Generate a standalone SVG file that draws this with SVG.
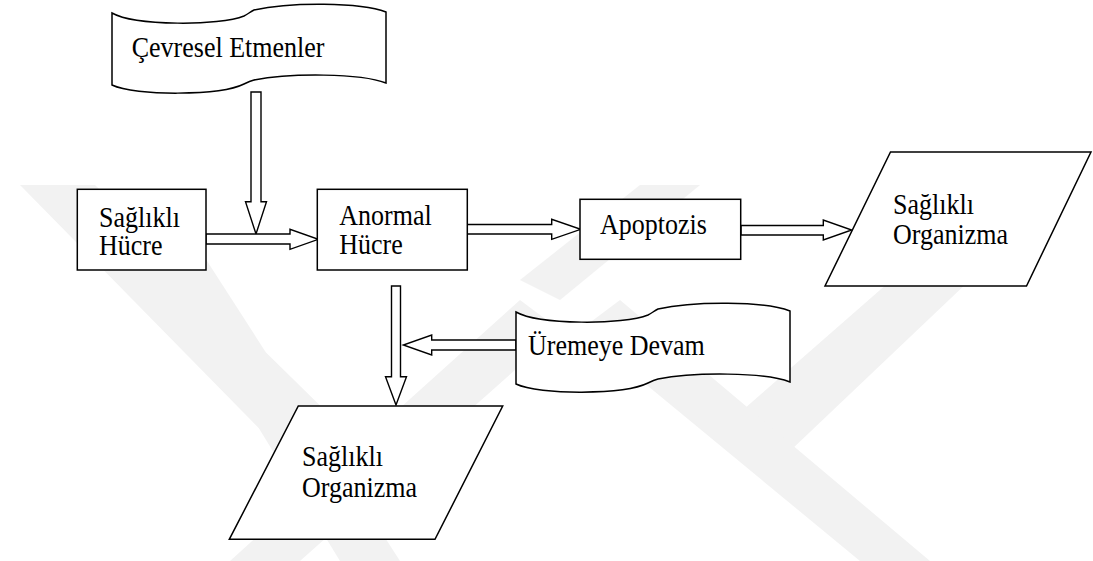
<svg xmlns="http://www.w3.org/2000/svg" width="1093" height="561" viewBox="0 0 1093 561">
  <style>
    .shape { fill: #ffffff; stroke: #000000; stroke-width: 1.5; }
    .arrow { fill: #ffffff; stroke: #000000; stroke-width: 1.4; stroke-linejoin: miter; }
    .label { font-family: 'Liberation Serif', 'Times New Roman', 'DejaVu Serif', serif; font-size: 26px; fill: #000000; }
    .wm { fill: #f2f2f2; stroke: none; }
  </style>
  <defs>
    <path id="tape" d="M0,0 C23,13 108,13 132,3 C136,1 138,-1 142,-3 C178,-11 248,-11 274,-1 L274,70 C248,60 178,60 142,67 C138,68 136,69 132,71 C108,83 23,83 0,72 Z"/>
  </defs>
  <rect width="1093" height="561" fill="#ffffff"/>
  <g id="watermark">
    <polygon class="wm" points="20,185 95,185 345,430 300,470"/>
    <polygon class="wm" points="150,250 200,250 400,561 340,561"/>
    <polygon class="wm" points="230,561 520,300 560,330 300,561"/>
    <polygon class="wm" points="1070,185 1000,185 720,430 770,470"/>
    <polygon class="wm" points="860,561 580,330 620,300 930,561"/>
    <polygon class="wm" points="640,185 700,185 560,300 520,280"/>
  </g>
  <g id="connectors">
    <path class="arrow" d="M251,92 H261 V201.7 H266.5 L256,234 L245.5,201.7 H251 Z"/>
    <path class="arrow" d="M206,234 H290 V229.3 L318.3,239.3 L290,249.3 V244 H206 Z"/>
    <path class="arrow" d="M467,224.5 H551.7 V219.3 L580.7,229.3 L551.7,239.3 V234 H467 Z"/>
    <path class="arrow" d="M741,225.5 H823.3 V220 L851.7,230 L823.3,240 V235 H741 Z"/>
    <path class="arrow" d="M391.5,286 H400.5 V376.7 H406.5 L396,405 L385.5,376.7 H391.5 Z"/>
    <path class="arrow" d="M516,340 H431.7 V335 L403.3,345 L431.7,355 V350 H516 Z"/>
  </g>
  <g id="cevresel">
    <use href="#tape" class="shape" transform="translate(112,13)"/>
    <text class="label" font-family="Liberation Serif, serif" transform="matrix(1 0 0 1.1 131.7 56.7)"><tspan x="0" y="0">Çevresel Etmenler</tspan></text>
  </g>
  <g id="saglikli-hucre">
    <rect class="shape" x="77.3" y="189.3" width="128.7" height="80.7"/>
    <text class="label" font-family="Liberation Serif, serif" transform="matrix(1 0 0 1.1 99 226.7)"><tspan x="0" y="0">Sağlıklı</tspan><tspan x="0" y="25.7">Hücre</tspan></text>
  </g>
  <g id="anormal-hucre">
    <rect class="shape" x="317.3" y="189.3" width="150" height="80.7"/>
    <text class="label" font-family="Liberation Serif, serif" transform="matrix(1 0 0 1.1 339.3 225)"><tspan x="0" y="0">Anormal</tspan><tspan x="0" y="26.4">Hücre</tspan></text>
  </g>
  <g id="apoptozis">
    <rect class="shape" x="580" y="199.3" width="160.7" height="60"/>
    <text class="label" font-family="Liberation Serif, serif" transform="matrix(1 0 0 1.1 600 234)"><tspan x="0" y="0">Apoptozis</tspan></text>
  </g>
  <g id="saglikli-organizma-1">
    <polygon class="shape" points="890.5,152 1091,152 1026.5,286 825,286"/>
    <text class="label" font-family="Liberation Serif, serif" transform="matrix(1 0 0 1.1 893 214)"><tspan x="0" y="0">Sağlıklı</tspan><tspan x="0" y="27.3">Organizma</tspan></text>
  </g>
  <g id="uremeye-devam">
    <use href="#tape" class="shape" transform="translate(516,312)"/>
    <text class="label" font-family="Liberation Serif, serif" transform="matrix(1 0 0 1.1 528 355)"><tspan x="0" y="0">Üremeye Devam</tspan></text>
  </g>
  <g id="saglikli-organizma-2">
    <polygon class="shape" points="298.3,406 502.7,406 435,539.3 229.3,539.3"/>
    <text class="label" font-family="Liberation Serif, serif" transform="matrix(1 0 0 1.1 302 465.5)"><tspan x="0" y="0">Sağlıklı</tspan><tspan x="0" y="28.4">Organizma</tspan></text>
  </g>
</svg>
